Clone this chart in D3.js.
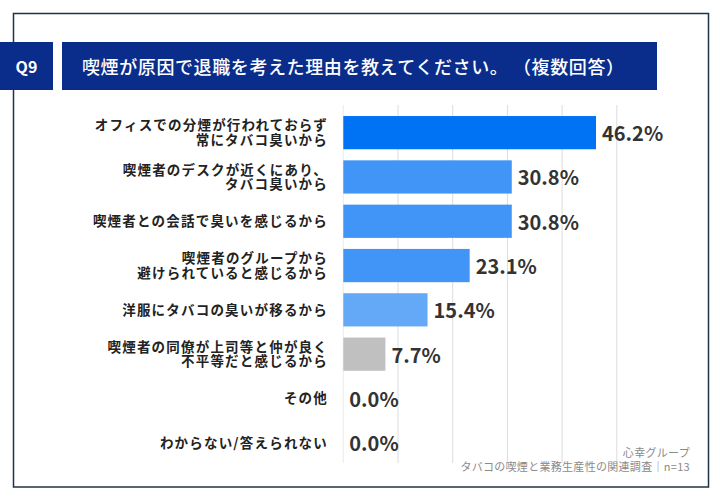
<!DOCTYPE html>
<html>
<head>
<meta charset="utf-8">
<script src="https://cdn.jsdelivr.net/npm/d3@7"></script>
<style>
  body { margin: 0; background: #fff; }
  svg { display: block; font-family: "Noto Sans CJK JP", "Noto Sans", sans-serif; }
</style>
</head>
<body>
<div id="chart"></div>
<script>
// data
const categories = [
    ["オフィスでの分煙が行われておらず", "常にタバコ臭いから"],
    ["喫煙者のデスクが近くにあり、", "タバコ臭いから"],
    ["喫煙者との会話で臭いを感じるから"],
    ["喫煙者のグループから", "避けられていると感じるから"],
    ["洋服にタバコの臭いが移るから"],
    ["喫煙者の同僚が上司等と仲が良く", "不平等だと感じるから"],
    ["その他"],
    ["わからない/答えられない"]
];
const values = [46.2, 30.8, 30.8, 23.1, 15.4, 7.7, 0.0, 0.0];
const gridTicks = [0, 10, 20, 30, 40, 50];
const questionNo = "Q9";
const title = "喫煙が原因で退職を考えた理由を教えてください。（複数回答）";
const footer = ["心幸グループ", "タバコの喫煙と業務生産性の関連調査｜n=13"];

const width = 720, height = 498;

const svg = d3.select("#chart").append("svg")
    .attr("width", width)
    .attr("height", height);

// outer frame
svg.append("rect")
    .attr("x", 13.5).attr("y", 13.5)
    .attr("width", 695).attr("height", 473.5)
    .attr("fill", "#fff")
    .attr("stroke", "#1c3349")
    .attr("stroke-width", 1.5);

// header boxes
svg.append("rect")
    .attr("x", 0).attr("y", 42).attr("width", 53).attr("height", 48)
    .attr("fill", "#0a2d8c");
svg.append("text")
    .attr("x", 26.5).attr("y", 66)
    .attr("text-anchor", "middle")
    .attr("dominant-baseline", "central")
    .attr("fill", "#fff")
    .style("font-size", "16px")
    .style("font-weight", 700)
    .text(questionNo);

svg.append("rect")
    .attr("x", 62).attr("y", 42).attr("width", 595).attr("height", 48)
    .attr("fill", "#0a2d8c");
svg.append("text")
    .attr("x", 82).attr("y", 66)
    .attr("dominant-baseline", "central")
    .attr("fill", "#fff")
    .style("font-size", "18px")
    .style("font-weight", 500)
    .style("letter-spacing", "0.6px")
    .text(title.replace("。（", "。 （"));

// scales
const x = d3.scaleLinear()
    .domain([0, 50])
    .range([343.3, 616.8]);

const y = d3.scaleBand()
    .domain(d3.range(categories.length))
    .range([110.5, 464.9])
    .paddingInner(0.25)
    .paddingOuter(0.125);

const barColor = d3.scaleOrdinal()
    .domain(d3.range(categories.length))
    .range(["#0073f5", "#4095f6", "#4095f6", "#4095f6", "#63a9f8", "#c0c0c0", "#c0c0c0", "#c0c0c0"]);

// grid
svg.append("g")
    .selectAll("line")
    .data(gridTicks)
    .join("line")
    .attr("x1", d => x(d)).attr("x2", d => x(d))
    .attr("y1", 105).attr("y2", 463)
    .attr("stroke", d => d === 0 ? "#ececec" : "#dcdcdc")
    .attr("stroke-width", 1);

// bars
svg.append("g")
    .selectAll("rect")
    .data(values)
    .join("rect")
    .attr("x", x(0))
    .attr("y", (d, i) => y(i))
    .attr("width", d => x(d) - x(0))
    .attr("height", y.bandwidth())
    .attr("fill", (d, i) => barColor(i));

// value labels
svg.append("g")
    .selectAll("text")
    .data(values)
    .join("text")
    .attr("x", d => x(d) + 6)
    .attr("y", (d, i) => y(i) + y.bandwidth() / 2)
    .attr("dominant-baseline", "central")
    .attr("fill", "#333")
    .style("font-size", "20px")
    .style("font-weight", 700)
    .text(d => d.toFixed(1) + "%");

// category labels
const lineGap = 14.5;
const labels = svg.append("g")
    .selectAll("text")
    .data(categories)
    .join("text")
    .attr("text-anchor", "end")
    .attr("fill", "#222")
    .style("font-size", "13.5px")
    .style("font-weight", 700)
    .style("letter-spacing", "1.2px");

labels.each(function (lines, i) {
    const cy = y(i) + y.bandwidth() / 2 - 1;
    const top = cy - (lines.length - 1) * lineGap / 2;
    d3.select(this).selectAll("tspan")
        .data(lines)
        .join("tspan")
        .attr("x", 328)
        .attr("y", (d, j) => top + j * lineGap)
        .attr("dominant-baseline", "central")
        .text(d => d);
});

// source note
svg.append("g")
    .selectAll("text")
    .data(footer)
    .join("text")
    .attr("x", 690)
    .attr("y", (d, i) => 452 + i * 14)
    .attr("text-anchor", "end")
    .attr("dominant-baseline", "central")
    .attr("fill", "#8a8a8a")
    .style("font-size", "11px")
    .style("letter-spacing", "0.3px")
    .text(d => d);
</script>
</body>
</html>
